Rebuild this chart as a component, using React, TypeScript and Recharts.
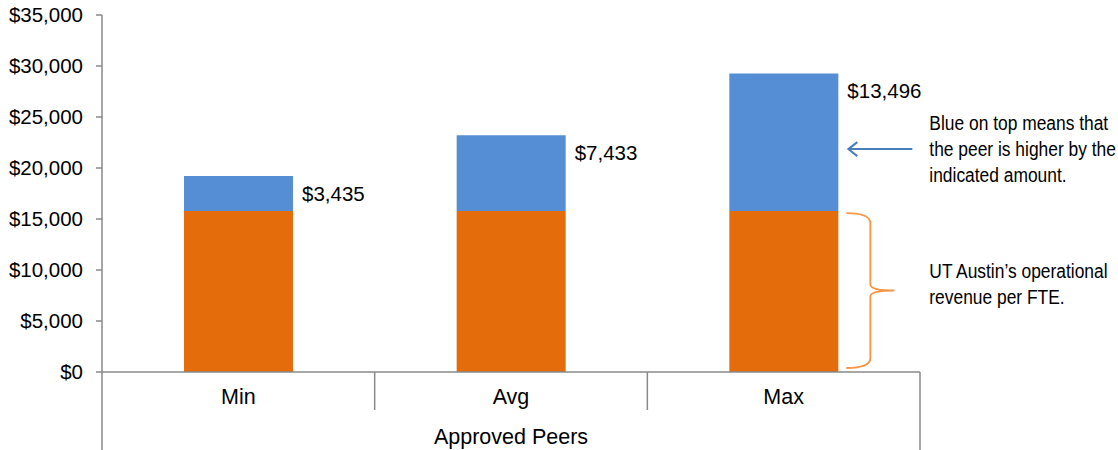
import { BarChart, Bar, XAxis, YAxis, LabelList } from 'recharts'

const categories = ['Min', 'Avg', 'Max']
const utAustinRevenue = [15780, 15780, 15780]
const peerDifference = [3435, 7433, 13496]
const yTicks = [0, 5000, 10000, 15000, 20000, 25000, 30000, 35000]
const groupLabel = 'Approved Peers'
const blueNote = ['Blue on top means that', 'the peer is higher by the', 'indicated amount.']
const orangeNote = ['UT Austin\u2019s operational', 'revenue per FTE.']

const data = categories.map((name, i) => ({
  name,
  base: utAustinRevenue[i],
  diff: peerDifference[i],
}))

const FONT = '"Liberation Sans", Arial, sans-serif'
const AXIS = '#898989'
const ORANGE = '#E46C0A'
const BLUE = '#558ED5'

const money = (v: number) => '$' + v.toLocaleString('en-US')

// narrow text: no Arial Narrow here, so squeeze Liberation Sans horizontally
function NarrowLines({ x, y, lines }: { x: number; y: number; lines: string[] }) {
  return (
    <text transform={`translate(${x} ${y}) scale(0.87 1)`} fontSize={20} fontFamily={FONT} fill="#000">
      {lines.map((t, i) => (
        <tspan key={i} x={0} y={i * 26} dominantBaseline="central">
          {t}
        </tspan>
      ))}
    </text>
  )
}

function CategoryTick(props: any) {
  const { x, y, payload, index, width } = props
  const half = payload?.offset > 0 ? payload.offset : width / (2 * categories.length)
  const last = index === categories.length - 1
  return (
    <g>
      <line x1={x - half} y1={y} x2={x - half} y2={y + (index === 0 ? 78 : 38)} stroke={AXIS} strokeWidth={1.5} />
      {last && <line x1={x + half} y1={y} x2={x + half} y2={y + 78} stroke={AXIS} strokeWidth={1.5} />}
      <text x={x} y={y + 25} dominantBaseline="central" textAnchor="middle" fontSize={21.5} fontFamily={FONT} fill="#000">
        {payload.value}
      </text>
      {index === 1 && (
        <text x={x} y={y + 65} dominantBaseline="central" textAnchor="middle" fontSize={21.5} fontFamily={FONT} fill="#000">
          {groupLabel}
        </text>
      )}
    </g>
  )
}

function DiffLabel(props: any) {
  const { x, y, width, height, value, index } = props
  const last = index === categories.length - 1
  const ay = y + height * 0.55
  return (
    <g>
      <text x={x + width + 9} y={y + 17} dominantBaseline="central" fontSize={20.5} fontFamily={FONT} fill="#000">
        {money(value)}
      </text>
      {last && (
        <g>
          <line x1={x + width + 74} y1={ay} x2={x + width + 10} y2={ay} stroke="#4A7EBB" strokeWidth={2} />
          <polyline
            points={`${x + width + 19},${ay - 7} ${x + width + 10},${ay} ${x + width + 19},${ay + 7}`}
            fill="none"
            stroke="#4A7EBB"
            strokeWidth={2}
          />
          <NarrowLines x={x + width + 91} y={ay - 26} lines={blueNote} />
        </g>
      )}
    </g>
  )
}

function BaseLabel(props: any) {
  const { x, y, width, height, index } = props
  if (index !== categories.length - 1) return null
  const left = x + width + 8
  const top = y + 2
  const bottom = y + height - 4
  const mid = (top + bottom) / 2
  const bx = left + 24
  const d = [
    `M ${left} ${top}`,
    `Q ${bx} ${top} ${bx} ${top + 10}`,
    `L ${bx} ${mid - 6}`,
    `Q ${bx} ${mid} ${bx + 24} ${mid}`,
    `Q ${bx} ${mid} ${bx} ${mid + 6}`,
    `L ${bx} ${bottom - 10}`,
    `Q ${bx} ${bottom} ${left} ${bottom}`,
  ].join(' ')
  return (
    <g>
      <path d={d} fill="none" stroke="#F79646" strokeWidth={1.8} />
      <NarrowLines x={x + width + 91} y={mid - 19} lines={orangeNote} />
    </g>
  )
}

export default function App() {
  return (
    <div style={{ position: 'absolute', left: 0, top: 0, width: 1118, height: 450, background: '#fff' }}>
      <BarChart
        width={1118}
        height={450}
        data={data}
        margin={{ top: 15, right: 198, bottom: 0, left: 0 }}
        barSize={109}
      >
        <XAxis
          dataKey="name"
          height={78}
          axisLine={{ stroke: AXIS, strokeWidth: 1.5 }}
          tickLine={false}
          tickSize={0}
          tickMargin={0}
          tick={<CategoryTick />}
          interval={0}
        />
        <YAxis
          width={102}
          domain={[0, 35000]}
          ticks={yTicks}
          tickFormatter={money}
          axisLine={{ stroke: AXIS, strokeWidth: 1.5 }}
          tickLine={{ stroke: AXIS, strokeWidth: 1.5 }}
          tickSize={6}
          tickMargin={13}
          tick={{ fontSize: 20.5, fontFamily: FONT, fill: '#000' }}
        />
        <Bar dataKey="base" stackId="a" fill={ORANGE} isAnimationActive={false}>
          <LabelList dataKey="base" content={<BaseLabel />} />
        </Bar>
        <Bar dataKey="diff" stackId="a" fill={BLUE} isAnimationActive={false}>
          <LabelList dataKey="diff" content={<DiffLabel />} />
        </Bar>
      </BarChart>
    </div>
  )
}
